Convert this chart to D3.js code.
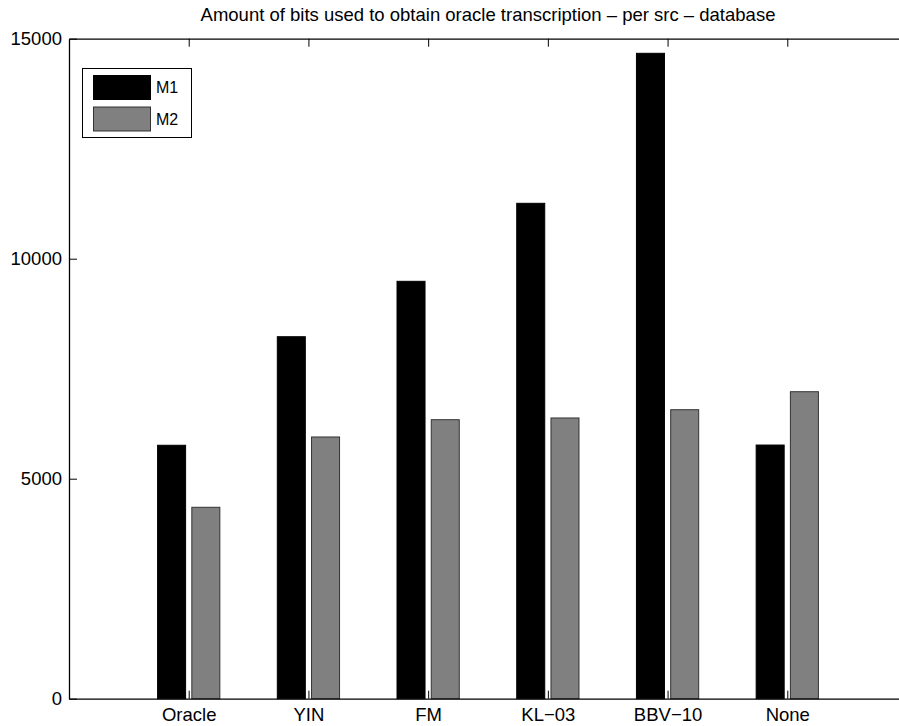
<!DOCTYPE html>
<html><head><meta charset="utf-8">
<script src="https://cdn.jsdelivr.net/npm/d3@7"></script>
<style>body{margin:0;background:#fff}svg{display:block;font-family:"Liberation Sans",Arial,sans-serif}</style>
</head><body><svg id="c" width="899" height="726"></svg>
<script>
const categories = ["Oracle","YIN","FM","KL\u221203","BBV\u221210","None"];
const seriesNames = ["M1","M2"];
const m1Values = [5760, 8227, 9486, 11259, 14668, 5765];
const m2Values = [4350, 5948, 6341, 6380, 6568, 6977];
const yTicks = [0, 5000, 10000, 15000];
const title = "Amount of bits used to obtain oracle transcription \u2013 per src \u2013 database";

const svg = d3.select("#c");
const L = 69, R = 907, T = 38.7, B = 698.7;
const x = d3.scaleLinear().domain([0, 7]).range([L, R]);
const y = d3.scaleLinear().domain([0, 15000]).range([B, T]);
const fill = ["#000000", "#808080"];
const stroke = ["#000000", "#333333"];
const offs = [-0.143, 0.143];
const bw = 0.234;
const series = [m1Values, m2Values];

series.forEach((vals, s) => {
  svg.append("g").selectAll("rect").data(vals).enter().append("rect")
    .attr("x", (d, i) => x(i + 1 + offs[s] - bw / 2))
    .attr("width", x(bw) - x(0))
    .attr("y", d => y(d))
    .attr("height", d => y(0) - y(d))
    .attr("fill", fill[s]).attr("stroke", stroke[s]).attr("stroke-width", 1);
});

const tickLen = 8;
const fs = 18.5;
const xb = svg.append("g").attr("transform", `translate(0,${B})`)
  .call(d3.axisBottom(x).tickValues(d3.range(1, 7)).tickFormat((d) => categories[d - 1]).tickSizeInner(-tickLen).tickSizeOuter(0).tickPadding(8));
const xt = svg.append("g").attr("transform", `translate(0,${T})`)
  .call(d3.axisTop(x).tickValues(d3.range(1, 7)).tickFormat("").tickSizeInner(-tickLen).tickSizeOuter(0));
const yl = svg.append("g").attr("transform", `translate(${L},0)`)
  .call(d3.axisLeft(y).tickValues(yTicks).tickFormat(d3.format("d")).tickSizeInner(-tickLen).tickSizeOuter(0).tickPadding(7));
const yr = svg.append("g").attr("transform", `translate(${R},0)`)
  .call(d3.axisRight(y).tickValues(yTicks).tickFormat("").tickSizeInner(-tickLen).tickSizeOuter(0));
[xb, xt, yl, yr].forEach(g => {
  g.selectAll(".domain").attr("stroke", "#000").attr("stroke-width", 1.3);
  g.selectAll(".tick line").attr("stroke", "#000").attr("stroke-width", 1);
  g.selectAll("text").attr("font-size", fs).attr("fill", "#000").attr("font-family", "Liberation Sans, Arial, sans-serif");
});
xb.selectAll(".tick text").attr("y", null).attr("dy", null)
  .attr("y", 721 - B);

svg.append("text").attr("x", (L + R) / 2).attr("y", 21).attr("text-anchor", "middle")
  .attr("font-size", 18.5).text(title);

const lg = svg.append("g");
lg.append("rect").attr("x", 82.5).attr("y", 68.5).attr("width", 109).attr("height", 69)
  .attr("fill", "#fff").attr("stroke", "#000").attr("stroke-width", 1);
seriesNames.forEach((n, i) => {
  lg.append("rect").attr("x", 93.5).attr("y", 75.5 + i * 31.5).attr("width", 57).attr("height", 24)
    .attr("fill", fill[i]).attr("stroke", stroke[i]).attr("stroke-width", 1);
  lg.append("text").attr("x", 156).attr("y", 87.5 + i * 31.5).attr("dy", "0.36em")
    .attr("font-size", 16).text(n);
});
</script></body></html>
